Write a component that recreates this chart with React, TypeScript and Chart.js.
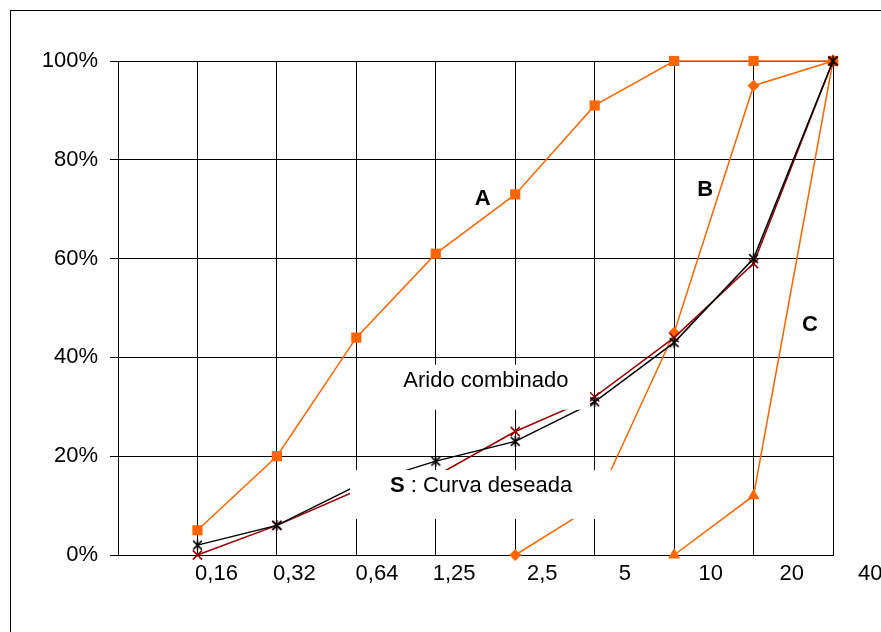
import React, { useEffect, useRef } from 'react';
import { Chart, registerables } from 'chart.js';

Chart.register(...registerables);

// ---- data ----
const sieveLabels = ['0,16', '0,32', '0,64', '1,25', '2,5', '5', '10', '20', '40'];
const curveA = [5, 20, 44, 61, 73, 91, 100, 100, 100];
const curveB = [null, null, null, null, 0, 10, 45, 95, 100];
const curveC = [null, null, null, null, null, null, 0, 12, 100];
const aridoCombinado = [0, 6, 13, 16, 25, 32, 44, 59, 100];
const curvaDeseada = [2, 6, 14, 19, 23, 31, 43, 60, 100];
const yTickValues = [0, 20, 40, 60, 80, 100];

// labels sit a little to the right of their grid line (fraction of a category)
const labelShift = [0.24, 0.22, 0.26, 0.23, 0.34, 0.38, 0.46, 0.48, 0.47];

// text notes in data coordinates (category index, percent)
const notes = [
  { parts: [{ t: 'A', bold: true }], x: 4.59, y: 72 },
  { parts: [{ t: 'B', bold: true }], x: 7.39, y: 74 },
  { parts: [{ t: 'C', bold: true }], x: 8.71, y: 46.5 },
  { parts: [{ t: 'Arido combinado', bold: false }], x: 4.63, y: 35.3 },
  { parts: [{ t: 'S', bold: true }, { t: ' : Curva deseada', bold: false }], x: 4.57, y: 14 },
];
const noteBoxes = [
  { x0: 3.32, x1: 5.94, y0: 29.4, y1: 38.5 },
  { x0: 2.92, x1: 6.32, y0: 7.3, y1: 17.2 },
];

const FONT = '"Liberation Sans", Arial, sans-serif';
const ORANGE = '#FF6600';
const DARKRED = '#990000';

function withGap(arr: (number | null)[]) {
  return [null, ...arr];
}

function makeAsterisk(color: string, size: number) {
  const c = document.createElement('canvas');
  c.width = size;
  c.height = size;
  const ctx = c.getContext('2d')!;
  ctx.strokeStyle = color;
  ctx.lineWidth = 1.5;
  const m = size / 2;
  const r = size / 2 - 1;
  const d = r * 0.8;
  ctx.beginPath();
  ctx.moveTo(m - d, m - d);
  ctx.lineTo(m + d, m + d);
  ctx.moveTo(m + d, m - d);
  ctx.lineTo(m - d, m + d);
  ctx.moveTo(m, m - r);
  ctx.lineTo(m, m + r);
  ctx.stroke();
  return c;
}

const decorPlugin = {
  id: 'decor',
  beforeDraw(chart: any) {
    const ctx = chart.ctx;
    ctx.save();
    ctx.fillStyle = '#fff';
    ctx.fillRect(0, 0, chart.width, chart.height);
    ctx.strokeStyle = '#000';
    ctx.lineWidth = 1;
    ctx.strokeRect(10.5, 10.5, 2000, 2000);
    ctx.restore();
  },
  afterDatasetsDraw(chart: any) {
    const ctx = chart.ctx;
    const xs = chart.scales.x;
    const ys = chart.scales.y;
    ctx.save();
    // white boxes behind notes
    ctx.fillStyle = '#fff';
    noteBoxes.forEach((b) => {
      const x0 = xs.getPixelForValue(b.x0);
      const x1 = xs.getPixelForValue(b.x1);
      const y0 = ys.getPixelForValue(b.y0);
      const y1 = ys.getPixelForValue(b.y1);
      ctx.fillRect(x0, y1, x1 - x0, y0 - y1);
    });
    // notes
    ctx.fillStyle = '#000';
    ctx.textBaseline = 'middle';
    ctx.textAlign = 'left';
    notes.forEach((n) => {
      let total = 0;
      const widths = n.parts.map((p) => {
        ctx.font = `${p.bold ? 'bold ' : ''}22px ${FONT}`;
        const w = ctx.measureText(p.t).width;
        total += w;
        return w;
      });
      let x = xs.getPixelForValue(n.x) - total / 2;
      const y = ys.getPixelForValue(n.y);
      n.parts.forEach((p, i) => {
        ctx.font = `${p.bold ? 'bold ' : ''}22px ${FONT}`;
        ctx.fillText(p.t, x, y);
        x += widths[i];
      });
    });
    // x tick labels
    ctx.font = `22px ${FONT}`;
    ctx.textAlign = 'center';
    ctx.textBaseline = 'alphabetic';
    sieveLabels.forEach((lab, i) => {
      const px = xs.getPixelForValue(i + 1 + labelShift[i]);
      ctx.fillText(lab, px, xs.bottom - 77 + 25);
    });
    ctx.restore();
  },
};

export default function App() {
  const ref = useRef<HTMLCanvasElement>(null);

  useEffect(() => {
    if (!ref.current) return;
    const star = makeAsterisk('#000', 13);
    const labels = ['', ...sieveLabels];
    const chart = new Chart(ref.current, {
      type: 'line',
      data: {
        labels,
        datasets: [
          {
            label: 'S : Curva deseada',
            data: withGap(curvaDeseada),
            borderColor: '#000',
            backgroundColor: '#000',
            borderWidth: 1.5,
            pointStyle: star as any,
            pointRadius: 6,
            clip: false as any,
          },
          {
            label: 'Arido combinado',
            data: withGap(aridoCombinado),
            borderColor: DARKRED,
            backgroundColor: DARKRED,
            borderWidth: 1.5,
            pointStyle: 'crossRot',
            pointRadius: 6.5,
            pointBorderWidth: 1.5,
            clip: false as any,
          },
          {
            label: 'A',
            data: withGap(curveA),
            borderColor: ORANGE,
            backgroundColor: ORANGE,
            borderWidth: 1.5,
            pointStyle: 'rect',
            pointRadius: 7.2,
            pointBorderWidth: 0,
            clip: false as any,
          },
          {
            label: 'B',
            data: withGap(curveB),
            borderColor: ORANGE,
            backgroundColor: ORANGE,
            borderWidth: 1.5,
            pointStyle: 'rectRot',
            pointRadius: 6,
            pointBorderWidth: 0,
            clip: false as any,
          },
          {
            label: 'C',
            data: withGap(curveC),
            borderColor: ORANGE,
            backgroundColor: ORANGE,
            borderWidth: 1.5,
            pointStyle: 'triangle',
            pointRadius: 7,
            pointBorderWidth: 0,
            clip: false as any,
          },
        ],
      },
      options: {
        responsive: false,
        animation: false,
        layout: { padding: { left: 0, top: 61, right: 48, bottom: 0 } },
        plugins: {
          legend: { display: false },
          tooltip: { enabled: false },
        },
        elements: { line: { tension: 0 } },
        scales: {
          x: {
            type: 'category',
            offset: false,
            grid: {
              color: '#000',
              lineWidth: 1,
              drawTicks: false,
              offset: false,
            },
            border: { color: '#000', width: 1 },
            ticks: { display: false },
            afterFit: (s: any) => {
              s.height = 77;
            },
          },
          y: {
            min: 0,
            max: 100,
            afterBuildTicks: (s: any) => {
              s.ticks = yTickValues.map((v) => ({ value: v }));
            },
            grid: { color: '#000', lineWidth: 1, tickLength: 8, drawTicks: true },
            border: { color: '#000', width: 1 },
            ticks: {
              color: '#000',
              padding: 12,
              font: { family: FONT, size: 22 },
              callback: (v: any) => `${v}%`,
            },
            afterFit: (s: any) => {
              s.width = 118;
            },
          },
        },
      },
      plugins: [decorPlugin],
    });
    return () => chart.destroy();
  }, []);

  return (
    <div style={{ position: 'fixed', left: 0, top: 0, width: 881, height: 632, background: '#fff' }}>
      <canvas ref={ref} width={881} height={632} style={{ width: 881, height: 632, display: 'block' }} />
    </div>
  );
}
